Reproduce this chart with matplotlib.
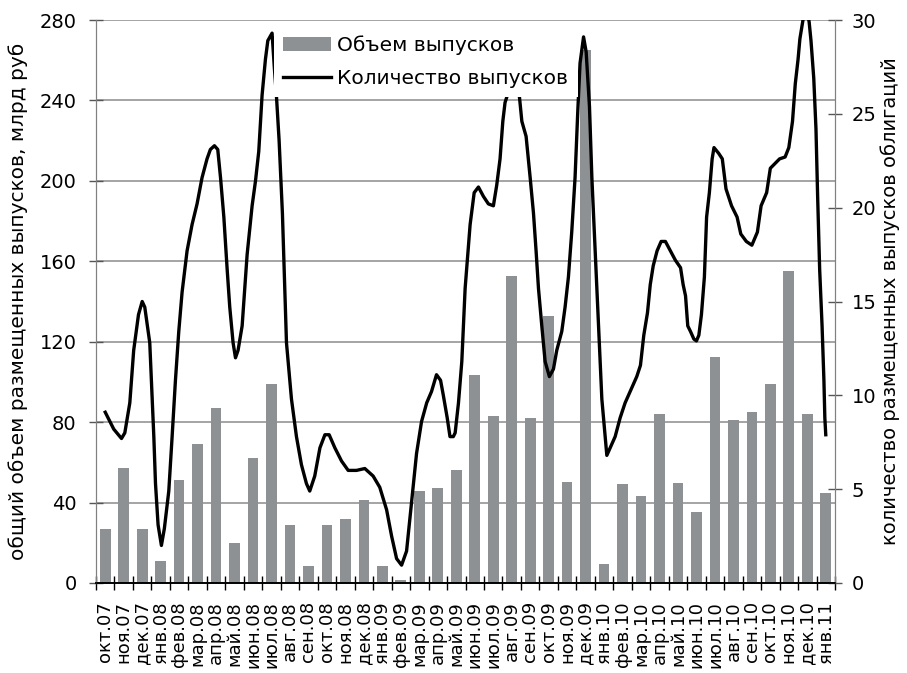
import matplotlib
matplotlib.use("Agg")
import matplotlib.pyplot as plt
from matplotlib.patches import Patch
from matplotlib.lines import Line2D
import numpy as np

plt.rcParams['font.family'] = ['DejaVu Sans']

months = ['окт.07', 'ноя.07', 'дек.07', 'янв.08', 'фев.08', 'мар.08', 'апр.08', 'май.08',
          'июн.08', 'июл.08', 'авг.08', 'сен.08', 'окт.08', 'ноя.08', 'дек.08', 'янв.09',
          'фев.09', 'мар.09', 'апр.09', 'май.09', 'июн.09', 'июл.09', 'авг.09', 'сен.09',
          'окт.09', 'ноя.09', 'дек.09', 'янв.10', 'фев.10', 'мар.10', 'апр.10', 'май.10',
          'июн.10', 'июл.10', 'авг.10', 'сен.10', 'окт.10', 'ноя.10', 'дек.10', 'янв.11']

# monthly placement volume, bn rub
volume = [27, 57, 27, 11, 51, 69, 87, 20, 62, 99,
          29, 8.5, 29, 32, 41.5, 8.5, 1.3, 46, 47, 56,
          103.5, 83, 152.5, 82, 133, 50, 265, 9.4, 49, 43.5,
          84, 49.6, 35.5, 112.3, 81, 85, 99, 155, 84, 45]

# number of issues (smoothed, sub-monthly); t is in months since oct.07
count_t = [0.0, 0.46, 0.88, 1.06, 1.33, 1.54, 1.8, 2.0, 2.14, 2.41, 2.5, 2.63, 2.72, 2.86,
           3.04, 3.2, 3.44, 3.62, 3.8, 3.98, 4.16, 4.43, 4.7, 4.97, 5.24, 5.51, 5.69, 5.91,
           6.09, 6.24, 6.42, 6.6, 6.74, 6.92, 7.05, 7.19, 7.41, 7.68, 7.95, 8.13, 8.31, 8.49,
           8.67, 8.8, 9.03, 9.15, 9.27, 9.41, 9.59, 9.81, 10.08, 10.35, 10.62, 10.89, 11.07,
           11.34, 11.62, 11.89, 12.12, 12.43, 12.79, 13.15, 13.6, 14.05, 14.5, 14.86, 15.23,
           15.5, 15.77, 16.04, 16.31, 16.58, 16.85, 17.12, 17.4, 17.66, 17.93, 18.15, 18.3,
           18.51, 18.66, 18.84, 18.94, 19.12, 19.3, 19.48, 19.75, 19.97, 20.2, 20.47, 20.74,
           21.01, 21.19, 21.37, 21.52, 21.64, 21.77, 22.0, 22.2, 22.42, 22.55, 22.78, 23.0,
           23.18, 23.32, 23.45, 23.63, 23.81, 24.04, 24.26, 24.44, 24.71, 24.89, 25.07, 25.25,
           25.43, 25.58, 25.7, 25.89, 26.03, 26.21, 26.34, 26.52, 26.7, 26.88, 27.06, 27.15,
           27.33, 27.6, 27.87, 28.14, 28.5, 28.77, 28.97, 29.15, 29.35, 29.5, 29.66, 29.87,
           30.09, 30.32, 30.59, 30.86, 31.14, 31.28, 31.41, 31.53, 31.68, 31.86, 32.0, 32.13,
           32.27, 32.43, 32.55, 32.7, 32.85, 32.95, 33.2, 33.4, 33.6, 33.9, 34.2, 34.4, 34.7,
           35.0, 35.3, 35.5, 35.8, 36.0, 36.3, 36.5, 36.8, 37.0, 37.2, 37.35, 37.5, 37.6,
           37.8, 38.0, 38.1, 38.2, 38.35, 38.47, 38.56, 38.67, 38.8, 38.9, 38.95, 39.0]
count_n = [9.1, 8.2, 7.7, 8.0, 9.6, 12.4, 14.3, 15.0, 14.7, 12.8, 10.8, 7.8, 5.3, 3.1,
           2.0, 2.9, 4.9, 7.8, 10.8, 13.4, 15.5, 17.7, 19.1, 20.2, 21.6, 22.6, 23.1, 23.3,
           23.1, 21.6, 19.5, 16.7, 14.7, 12.8, 12.0, 12.4, 13.7, 17.5, 20.1, 21.4, 23.0, 26.0,
           27.9, 28.9, 29.3, 27.5, 25.9, 23.6, 19.7, 12.8, 9.8, 7.8, 6.3, 5.3, 4.9,
           5.7, 7.2, 7.9, 7.9, 7.2, 6.5, 6.0, 6.0, 6.1, 5.7, 5.1, 3.9,
           2.5, 1.3, 0.95, 1.7, 4.3, 6.9, 8.6, 9.6, 10.2, 11.1, 10.8, 10.0,
           8.8, 7.8, 7.8, 8.0, 9.6, 11.8, 15.7, 19.1, 20.8, 21.1, 20.6, 20.2,
           20.1, 21.2, 22.6, 24.6, 25.6, 26.0, 27.5, 27.5, 25.9, 24.6, 23.8, 21.6,
           19.7, 17.7, 15.7, 13.7, 11.8, 11.0, 11.4, 12.4, 13.4, 14.7, 16.3, 18.7,
           21.6, 25.2, 27.7, 29.1, 28.3, 25.4, 21.6, 17.7, 13.7, 9.8, 7.8, 6.8,
           7.2, 7.8, 8.8, 9.6, 10.4, 11.0, 11.6, 13.2, 14.4, 15.9, 16.9, 17.7,
           18.2, 18.2, 17.7, 17.2, 16.8, 15.9, 15.3, 13.7, 13.4, 13.0, 12.9, 13.2,
           14.3, 16.3, 19.5, 20.8, 22.6, 23.2, 22.9, 22.6, 21.0, 20.1, 19.5, 18.6, 18.2,
           18.0, 18.7, 20.1, 20.8, 22.1, 22.4, 22.6, 22.7, 23.2, 24.6, 26.6, 27.9, 29.0,
           30.2, 30.4, 29.9, 28.9, 26.9, 24.2, 20.6, 16.7, 13.7, 10.8, 8.8, 7.9]

bar_color = '#8d9194'
grid_color = '#8c8c8c'

fig = plt.figure(figsize=(9.07, 6.73), dpi=100)
ax = fig.add_axes([96 / 907, 1 - 583 / 673, (835 - 96) / 907, (583 - 20) / 673])
ax2 = ax.twinx()

x = np.arange(len(months))
ax.bar(x, volume, width=0.58, color=bar_color, zorder=2)
ax.set_xlim(-0.5, len(months) - 0.5)
ax.set_ylim(0, 280)
ax.set_yticks(np.arange(0, 281, 40))
ax.yaxis.grid(True, color=grid_color, linewidth=1.1, zorder=0)
ax.set_axisbelow(True)

ax2.plot(count_t, count_n, color='black', linewidth=2.4, solid_joinstyle='round')
ax2.set_ylim(0, 30)
ax2.set_yticks(np.arange(0, 31, 5))

# month labels in the middle, tick marks between months
ax.set_xticks(x)
ax.set_xticklabels(months, rotation=90, fontsize=13)
ax.set_xticks(np.arange(len(months) + 1) - 0.5, minor=True)
ax.tick_params(axis='x', which='major', length=0, pad=13)
ax.tick_params(axis='x', which='minor', direction='inout', length=10, width=1, color='black')
ax.tick_params(axis='y', direction='inout', length=10, width=1, color='#555555',
               labelsize=14, pad=9)
ax2.tick_params(axis='y', direction='inout', length=10, width=1, color='#555555',
                labelsize=14, pad=7)

for a in (ax, ax2):
    a.spines['top'].set_visible(False)
    a.spines['left'].set_color('#808080')
    a.spines['right'].set_color('#808080')
    a.spines['bottom'].set_color('black')
    a.spines['bottom'].set_linewidth(1.2)

ax.set_ylabel('общий объем размещенных выпусков, млрд руб', fontsize=14.5, labelpad=8)
ax2.set_ylabel('количество размещенных выпусков облигаций', fontsize=14, labelpad=3)

handles = [Patch(facecolor=bar_color, edgecolor='none'),
           Line2D([], [], color='black', linewidth=2.4)]
leg = ax2.legend(handles, ['Объем выпусков', 'Количество выпусков'],
                 loc='upper left', bbox_to_anchor=((274 - 96) / 739, 1 - 6 / 563),
                 borderaxespad=0, borderpad=0.45, fontsize=14.5, frameon=True,
                 facecolor='white', edgecolor='none', framealpha=1, fancybox=False,
                 handlelength=2.4, handletextpad=0.3, labelspacing=0.7)
leg.set_zorder(10)

fig.savefig('out.png', dpi=100)
